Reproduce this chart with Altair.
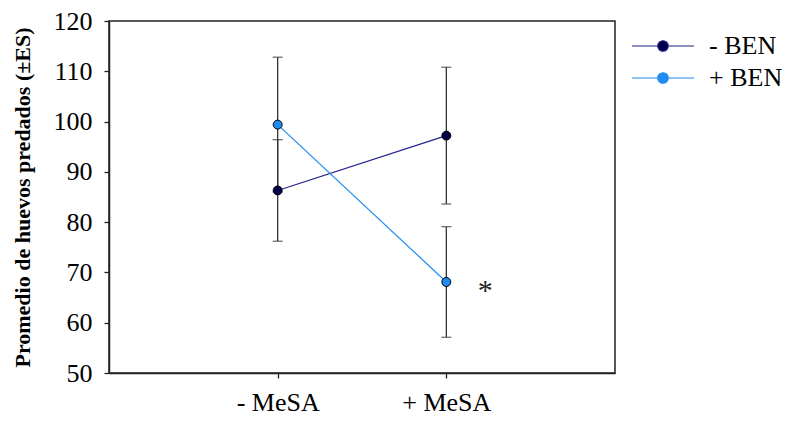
import altair as alt
import pandas as pd

categories = ["- MeSA", "+ MeSA"]
cat_pos = [1, 2]
groups = ["- BEN", "+ BEN"]
means_minus_ben = [86.3, 97.2]
err_minus_ben = [10.1, 13.6]
means_plus_ben = [99.4, 68.1]
err_plus_ben = [13.4, 11.0]
star_pos = [2.23]
star_val = [66.3]

SERIF = "Liberation Serif, Times New Roman, serif"

rows = []
for g, means, errs in [(groups[0], means_minus_ben, err_minus_ben), (groups[1], means_plus_ben, err_plus_ben)]:
    for c, p, m, e in zip(categories, cat_pos, means, errs):
        rows.append({"grupo": g, "cat": c, "pos": p, "mean": m, "lo": m - e, "hi": m + e})
df = pd.DataFrame(rows)
star_df = pd.DataFrame({"pos": star_pos, "val": star_val, "txt": ["*"]})

xs = alt.Scale(domain=[0, 3], nice=False, zero=False)
ys = alt.Scale(domain=[50, 120], nice=False, zero=False)
x_enc = alt.X("pos:Q", scale=xs, axis=alt.Axis(
    values=cat_pos, title=None, labelExpr="datum.value == 1 ? '- MeSA' : '+ MeSA'",
    labelFont=SERIF, labelFontSize=26, labelColor="black", labelPadding=11,
    domainColor="#222222", domainWidth=1.5, tickColor="#222222", tickWidth=1.3, tickSize=5, grid=False))
y_enc = alt.Y("mean:Q", scale=ys, axis=alt.Axis(
    values=[50, 60, 70, 80, 90, 100, 110, 120], title="Promedio de huevos predados (±ES)",
    labelFont=SERIF, labelFontSize=26, labelColor="black", labelPadding=12,
    titleFont=SERIF, titleFontSize=22, titleFontWeight="bold", titleColor="black", titlePadding=19,
    domainColor="#222222", domainWidth=1.5, tickColor="#222222", tickWidth=1.3, tickSize=5, grid=False))

stroke_scale = alt.Scale(domain=groups, range=["#22228a", "#1e8cf0"])
fill_scale = alt.Scale(domain=groups, range=["#000048", "#1e8cf0"])

sym = "M-1,0H-0.17M0.17,0H1M0.17,0A0.17,0.17,0,1,1,-0.17,0A0.17,0.17,0,1,1,0.17,0"
leg = alt.Legend(
    title=None, orient="none", legendX=522, legendY=15, padding=0,
    symbolType=sym, symbolSize=3844, symbolStrokeWidth=1.2, clipHeight=20, rowPadding=6,
    labelFont=SERIF, labelFontSize=26, labelColor="black", labelOffset=14)

base = alt.Chart(df)
rules = base.mark_rule(color="#333333", strokeWidth=1.3).encode(
    x=x_enc, y=alt.Y("lo:Q", scale=ys), y2="hi:Q")
caps_lo = base.mark_tick(color="#333333", thickness=1.3, size=10, orient="horizontal").encode(
    x=x_enc, y=alt.Y("lo:Q", scale=ys))
caps_hi = base.mark_tick(color="#333333", thickness=1.3, size=10, orient="horizontal").encode(
    x=x_enc, y=alt.Y("hi:Q", scale=ys))
lines = base.mark_line(strokeWidth=1.2).encode(
    x=x_enc, y=y_enc,
    stroke=alt.Stroke("grupo:N", scale=stroke_scale, sort=groups, legend=leg),
    detail="grupo:N")
pts = base.mark_point(filled=True, size=80, stroke="black", strokeWidth=1, opacity=1).encode(
    x=x_enc, y=y_enc,
    fill=alt.Fill("grupo:N", scale=fill_scale, sort=groups, legend=leg))
star = alt.Chart(star_df).mark_text(fontSize=30, font=SERIF, color="#222222", baseline="middle").encode(
    x=alt.X("pos:Q", scale=xs), y=alt.Y("val:Q", scale=ys), text="txt:N")

chart = alt.layer(rules, caps_lo, caps_hi, lines, pts, star).properties(
    width=506, height=352,
    autosize=alt.AutoSizeParams(type="none"),
    padding={"left": 101, "top": 13, "right": 169, "bottom": 43},
).configure_view(stroke="#222222", strokeWidth=1.5)

chart.save("out.html", embed_options={"renderer": "svg", "actions": False})
